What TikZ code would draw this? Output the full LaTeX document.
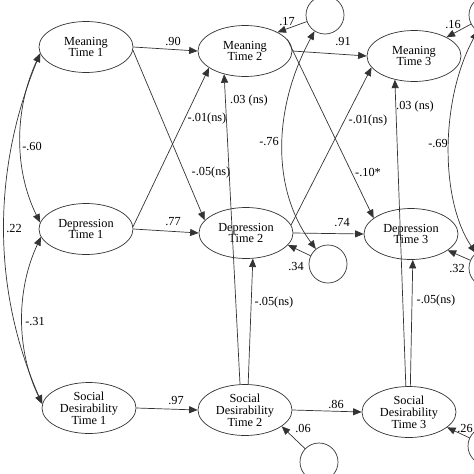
\documentclass[tikz,border=0pt]{standalone}
\usepackage{fontspec}
\setmainfont{Liberation Serif}
\usetikzlibrary{arrows.meta,shapes.geometric}
\newcommand\txtsize{\fontsize{12.3}{11.8}\selectfont}
\begin{document}
\begin{tikzpicture}[x=1pt,y=-1pt,
  line width=0.7pt, color=black!80,
  lv/.style={ellipse, draw=black!80, minimum width=94pt, minimum height=51pt, inner sep=0pt, align=center, font=\txtsize, text=black},
  err/.style={circle, draw=black!80, minimum size=38pt, inner sep=0pt},
  reg/.style={draw=black!80, -{Triangle[length=8.5pt,width=7pt]}},
  cov/.style={draw=black!80, {Triangle[length=8.5pt,width=7pt]}-{Triangle[length=8.5pt,width=7pt]}},
  lab/.style={font=\txtsize, inner sep=0pt, text=black}]
\useasboundingbox (0,0) rectangle (474,474);
\clip (0,0) rectangle (474,474);
% latent variables
\node[lv] (m1) at (86,47) {Meaning\\Time 1};
\node[lv] (m2) at (245,51) {Meaning\\Time 2};
\node[lv] (m3) at (414,56) {Meaning\\Time 3};
\node[lv] (d1) at (86,229) {Depression\\Time 1};
\node[lv] (d2) at (246,233) {Depression\\Time 2};
\node[lv] (d3) at (411,234) {Depression\\Time 3};
\node[lv] (s1) at (89,408) {Social\\Desirability\\Time 1};
\node[lv] (s2) at (245,410) {Social\\Desirability\\Time 2};
\node[lv] (s3) at (409,412) {Social\\Desirability\\Time 3};
% error terms
\node[err] (em2) at (325,15) {};
\node[err] (em3) at (488,15) {};
\node[err] (ed2) at (328,264) {};
\node[err] (ed3) at (488,268) {};
\node[err] (es2) at (319,462) {};
\node[err] (es3) at (487,446) {};
% autoregressive paths
\draw[reg] (m1.east) -- (m2.west);
\draw[reg] (m2.east) -- (m3.west);
\draw[reg] (d1.east) -- (d2.west);
\draw[reg] (d2.east) -- (d3.west);
\draw[reg] (s1.east) -- (s2.west);
\draw[reg] (s2.east) -- (s3.west);
% cross-lagged
\draw[reg] (m1.-4) -- (d2.163);
\draw[reg] (d1.3) -- (m2.205);
\draw[reg] (m2.15) -- (d3.157);
\draw[reg] (d2.10) -- (m3.195);
% social desirability
\draw[reg] (s2.101) -- (m2.228);
\draw[reg] (s2.83) -- (d2.285);
\draw[reg] (s3.97) -- (m3.231);
\draw[reg] (s3.87) -- (d3.274);
% residuals
\draw[reg] (em2) -- (m2.30);
\draw[reg] (em3) -- (m3.30);
\draw[reg] (ed2) -- (d2.-16);
\draw[reg] (ed3) -- (d3.-24);
\draw[reg] (es2) -- (s2.-24);
\draw[reg] (es3) -- (s3.-22);
% covariances
\draw[cov] (m1.188) .. controls (14,110) and (14,170) .. (d1.172);
\draw[cov] (m1.188) .. controls (-8,170) and (-8,290) .. (s1.175);
\draw[cov] (d1.190) .. controls (16,290) and (16,350) .. (s1.175);
\draw[cov] (em2.237) .. controls (272,110) and (272,190) .. (ed2.129);
\draw[cov] (em3.237) .. controls (440,100) and (440,200) .. (ed3.129);
% labels
\node[lab] at (173,41) {.90};
\node[lab] at (343,42) {.91};
\node[lab] at (173,222) {.77};
\node[lab] at (342,223) {.74};
\node[lab] at (176,401) {.97};
\node[lab] at (336,404) {.86};
\node[lab] at (211,173) {-.05(ns)};
\node[lab] at (207,119) {-.01(ns)};
\node[lab] at (368,172) {-.10*};
\node[lab] at (368,121) {-.01(ns)};
\node[lab] at (249,101) {.03 (ns)};
\node[lab] at (415,107) {.03 (ns)};
\node[lab] at (274,303) {-.05(ns)};
\node[lab] at (436,301) {-.05(ns)};
\node[lab] at (269,142) {-.76};
\node[lab] at (438,144) {-.69};
\node[lab] at (287,22) {.17};
\node[lab] at (453,25) {.16};
\node[lab] at (296,267) {.34};
\node[lab] at (457,269) {.32};
\node[lab] at (303,428) {.06};
\node[lab] at (465,429) {.26};
\node[lab] at (32,146) {-.60};
\node[lab] at (14,229) {.22};
\node[lab] at (35,322) {-.31};
\end{tikzpicture}
\end{document}
